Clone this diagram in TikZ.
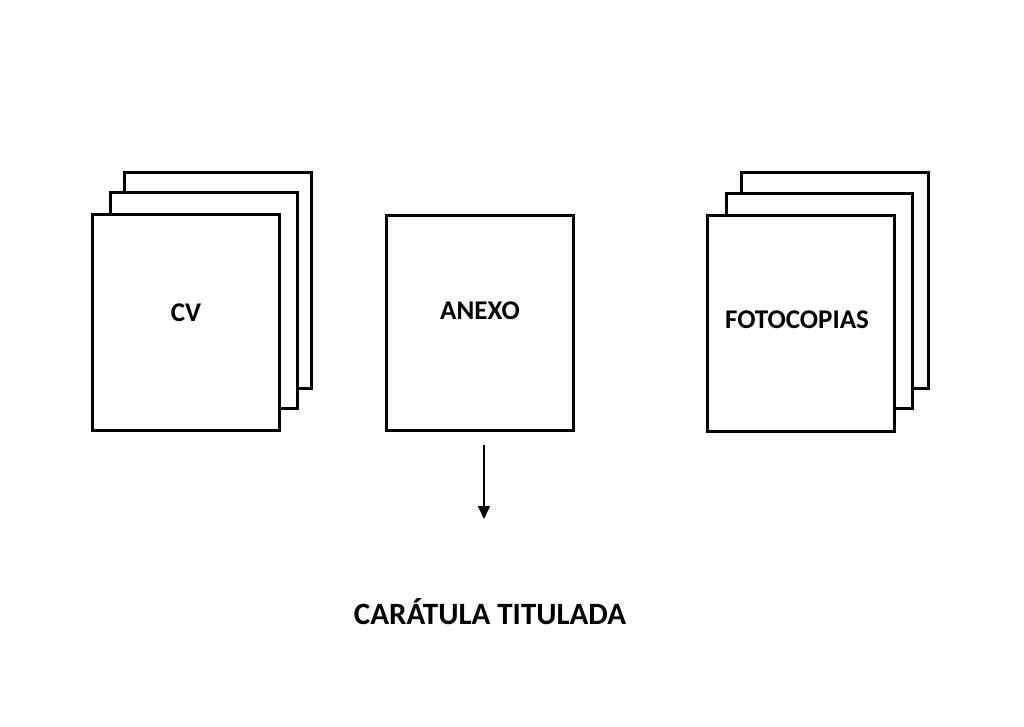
\documentclass[tikz,border=0pt]{standalone}
\usepackage{fontspec}
\setmainfont{Carlito}
\usetikzlibrary{arrows.meta}
\begin{document}
\begin{tikzpicture}[x=1pt,y=-1pt,
  page/.style={draw=black,fill=white,line width=3pt},
  lbl/.style={font=\bfseries\fontsize{27}{32}\selectfont},
  ttl/.style={font=\bfseries\fontsize{31}{37}\selectfont},
  conn/.style={line width=1.5pt,-{Triangle[length=13pt,width=12pt]}}]
\useasboundingbox (0,0) rectangle (1024,727);
% CV stack
\draw[page] (124,173) rectangle (311,388);
\draw[page] (110,193) rectangle (297,408);
\draw[page] (92,215) rectangle (279,430);
\node[lbl] (cv) at (186,313) {CV};
% ANEXO
\draw[page] (386,216) rectangle (573,430);
\node[lbl] (anexo) at (480,311) {ANEXO};
% FOTOCOPIAS stack
\draw[page] (741,173) rectangle (928,388);
\draw[page] (726,194) rectangle (912,408);
\draw[page] (707,216) rectangle (894,431);
\node[lbl] (foto) at (797,320) {FOTOCOPIAS};
% arrow
\coordinate (a1) at (484,445);
\coordinate (a2) at (484,519);
\draw[conn] (a1) -- (a2);
\node[ttl] (car) at (490,612) {CARÁTULA TITULADA};
\end{tikzpicture}
\end{document}
